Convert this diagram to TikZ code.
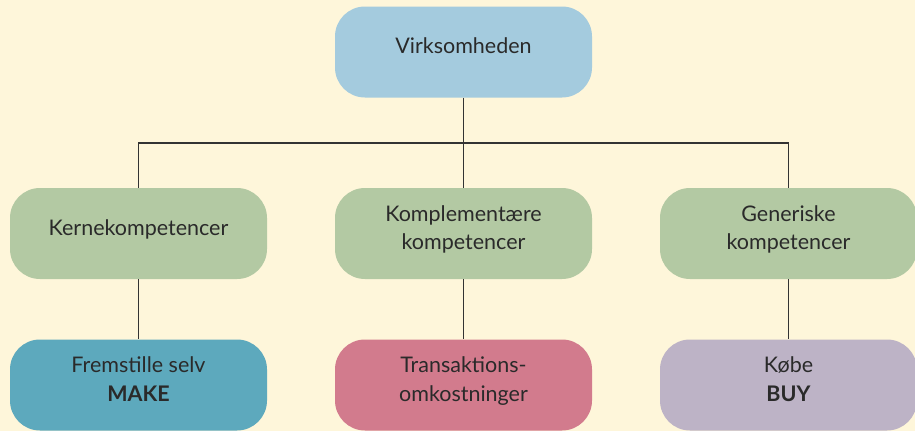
\documentclass[tikz,border=0pt]{standalone}
\usepackage{fontspec}
\setmainfont{Lato}
\begin{document}
\begin{tikzpicture}[x=1pt,y=-1pt,
  box/.style={rounded corners=30pt, minimum width=257pt, minimum height=91pt,
    inner sep=0pt, align=center, text=txt,
    font=\fontsize{21.5}{28.5}\selectfont,
    % extra depth under the last line lifts the text slightly above centre
    execute at end node={\vrule width 0pt height 0pt depth 12pt}},
  link/.style={draw=linec, line width=1.4pt}]
\definecolor{bg}{HTML}{FEF6DA}
\definecolor{topc}{HTML}{A4CBDE}
\definecolor{compc}{HTML}{B3C9A3}
\definecolor{makec}{HTML}{5DA9BD}
\definecolor{costc}{HTML}{D27B8D}
\definecolor{buyc}{HTML}{BDB3C6}
\definecolor{txt}{HTML}{2A2A2A}
\definecolor{linec}{HTML}{333333}
\fill[bg] (0,0) rectangle (915,431);
\useasboundingbox (0,0) rectangle (915,431);

% top
\node[box, fill=topc] (firm) at (463.5,52) {Virksomheden};
% competences
\node[box, fill=compc] (core) at (138.5,233.5) {Kernekompetencer};
\node[box, fill=compc] (compl) at (463.5,233.5) {Komplementære\\kompetencer};
\node[box, fill=compc] (gen) at (788.5,233.5) {Generiske\\kompetencer};
% decisions
\node[box, fill=makec] (make) at (138.5,385) {Fremstille selv\\\textbf{MAKE}};
\node[box, fill=costc] (cost) at (463.5,385) {Transaktions-\\omkostninger};
\node[box, fill=buyc] (buy) at (788.5,385) {Købe\\\textbf{BUY}};

\coordinate (bar) at (463.5,143);
\draw[link] (firm.south) -- (bar) -- (compl.north);
\draw[link] (core.north) |- (bar);
\draw[link] (gen.north) |- (bar);
\draw[link] (core) -- (make);
\draw[link] (compl) -- (cost);
\draw[link] (gen) -- (buy);
\end{tikzpicture}
\end{document}
